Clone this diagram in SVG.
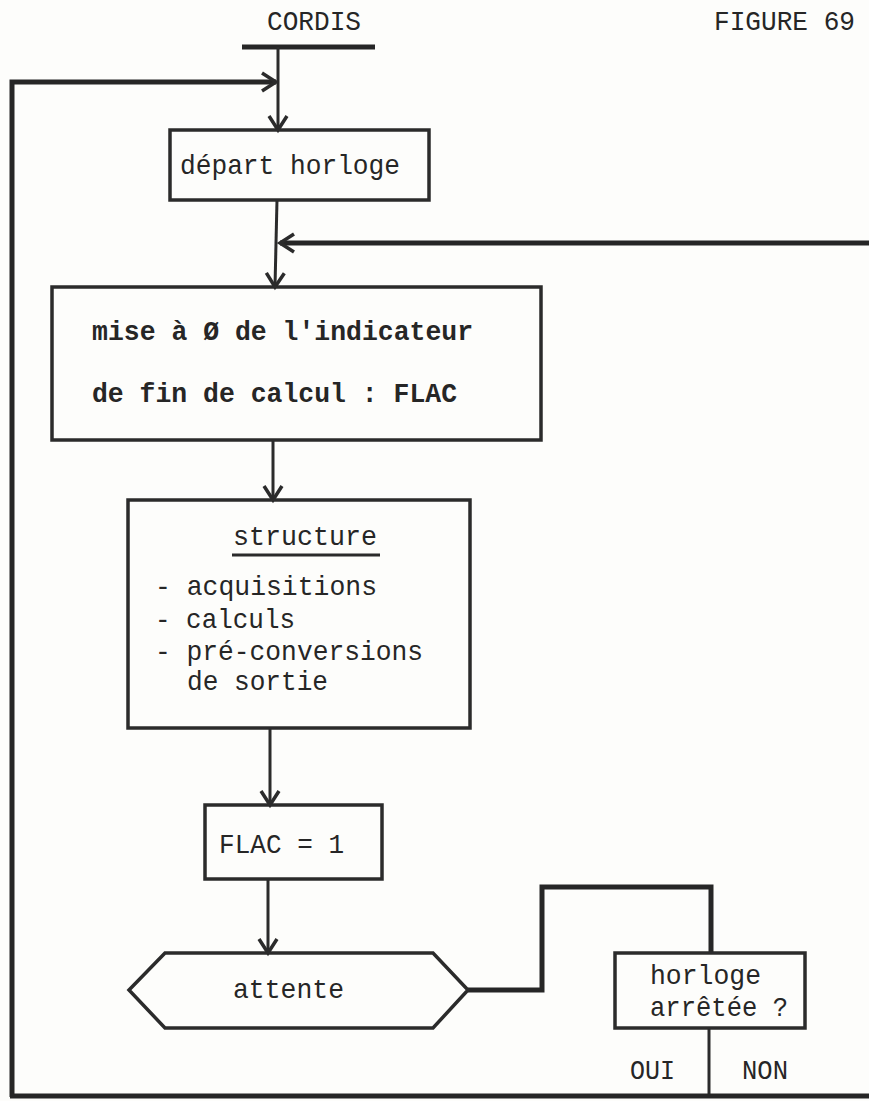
<svg xmlns="http://www.w3.org/2000/svg" width="869" height="1101" viewBox="0 0 869 1101">
<style>
.bg{fill:#fdfdfb}
.box{fill:none;stroke:#2b2b2b;stroke-width:3.5}
.ln{fill:none;stroke:#2b2b2b;stroke-width:3;stroke-linejoin:miter}
.thick{fill:none;stroke:#262626;stroke-width:5}
.t{font-family:"Liberation Mono","Courier New",monospace;font-size:28px;fill:#262626}
.b{font-weight:bold}
</style>
<defs>
<marker id="arr" markerUnits="userSpaceOnUse" markerWidth="24" markerHeight="24" refX="18" refY="12" orient="auto">
<path d="M4,3 L18,12 L4,21" fill="none" stroke="#2b2b2b" stroke-width="3.5"/>
</marker>
</defs>
<rect class="bg" x="0" y="0" width="869" height="1101"/>
<g id="titles">
<text class="t" x="267" y="30" textLength="94" lengthAdjust="spacingAndGlyphs">CORDIS</text>
<text class="t" x="714" y="30" textLength="141" lengthAdjust="spacingAndGlyphs">FIGURE 69</text>
</g>
<g id="connectors">
<line class="thick" x1="242" y1="47" x2="375" y2="47"/>
<line class="ln" x1="278" y1="47" x2="278" y2="130" marker-end="url(#arr)"/>
<polyline class="thick" points="12,1097 12,82 276,82" marker-end="url(#arr)"/>
<line class="ln" x1="277" y1="200" x2="275" y2="287" marker-end="url(#arr)"/>
<line class="thick" x1="869" y1="243" x2="280" y2="243" marker-end="url(#arr)"/>
<line class="ln" x1="273" y1="440" x2="273" y2="500" marker-end="url(#arr)"/>
<line class="ln" x1="270" y1="728" x2="270" y2="805" marker-end="url(#arr)"/>
<line class="ln" x1="268" y1="879" x2="268" y2="953" marker-end="url(#arr)"/>
<polyline class="thick" points="468,990 542,990 542,887 711,887 711,953"/>
<line class="ln" x1="709" y1="1028" x2="709" y2="1097"/>
<line class="thick" x1="10" y1="1096" x2="869" y2="1096"/>
</g>
<g id="depart">
<rect class="box" x="170" y="130" width="259" height="70"/>
<text class="t" x="180" y="174" textLength="220" lengthAdjust="spacingAndGlyphs">départ horloge</text>
</g>
<g id="mise">
<rect class="box" x="52" y="287" width="489" height="153"/>
<text class="t b" x="92" y="340" textLength="381" lengthAdjust="spacingAndGlyphs">mise à Ø de l'indicateur</text>
<text class="t b" x="92" y="402" textLength="365" lengthAdjust="spacingAndGlyphs">de fin de calcul : FLAC</text>
</g>
<g id="structure">
<rect class="box" x="128" y="500" width="342" height="228"/>
<text class="t" x="233" y="545" textLength="144" lengthAdjust="spacingAndGlyphs">structure</text>
<line class="ln" x1="232" y1="555" x2="380" y2="555" stroke-width="2"/>
<text class="t" x="155" y="595" textLength="222" lengthAdjust="spacingAndGlyphs">- acquisitions</text>
<text class="t" x="155" y="628" textLength="140" lengthAdjust="spacingAndGlyphs">- calculs</text>
<text class="t" x="155" y="660" textLength="268" lengthAdjust="spacingAndGlyphs">- pré-conversions</text>
<text class="t" x="187" y="690" textLength="141" lengthAdjust="spacingAndGlyphs">de sortie</text>
</g>
<g id="flac">
<rect class="box" x="205" y="805" width="177" height="74"/>
<text class="t" x="219" y="853" textLength="125" lengthAdjust="spacingAndGlyphs">FLAC = 1</text>
</g>
<g id="attente">
<polygon class="box" points="129,990 165,953 433,953 468,990 433,1028 165,1028"/>
<text class="t" x="233" y="998" textLength="111" lengthAdjust="spacingAndGlyphs">attente</text>
</g>
<g id="horloge">
<rect class="box" x="615" y="953" width="190" height="75"/>
<text class="t" x="650" y="984" textLength="111" lengthAdjust="spacingAndGlyphs">horloge</text>
<text class="t" x="650" y="1016" textLength="138" lengthAdjust="spacingAndGlyphs">arrêtée ?</text>
</g>
<g id="labels">
<text class="t" x="630" y="1079" textLength="45" lengthAdjust="spacingAndGlyphs">OUI</text>
<text class="t" x="742" y="1079" textLength="46" lengthAdjust="spacingAndGlyphs">NON</text>
</g>
</svg>
